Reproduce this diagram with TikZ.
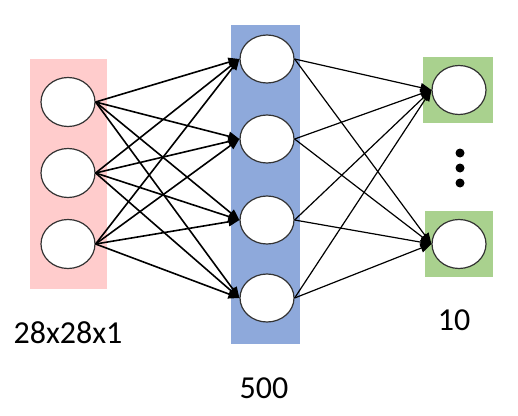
\documentclass[tikz,border=0pt]{standalone}
\usepackage{fontspec}
\setmainfont{Carlito}
\usetikzlibrary{shapes.geometric,arrows.meta}
\definecolor{lightpink}{rgb}{1,0.8,0.8}
\definecolor{layerblue}{rgb}{0.557,0.663,0.859}
\definecolor{layergreen}{rgb}{0.663,0.820,0.557}
\tikzset{
  neuron/.style={ellipse,draw=black!80,line width=1.2pt,fill=white,minimum width=54pt,minimum height=49pt,inner sep=0pt},
  link/.style={black,line width=1.6pt,-{Triangle[length=11pt,width=9pt]}},
  outlink/.style={black,line width=1.2pt,-{Triangle[length=11pt,width=9pt]}},
  size/.style={font=\fontsize{32}{36}\selectfont}
}
\begin{document}
\begin{tikzpicture}[x=1pt,y=-1pt]
\useasboundingbox (0,0) rectangle (518,415);
% layers
\fill[lightpink] (30,59) rectangle (107,289);
\fill[layerblue] (231,25) rectangle (300,344);
\fill[layergreen] (423,57) rectangle (493,123);
\fill[layergreen] (425,211) rectangle (493,277);
% input
\node[neuron] (i1) at (68,102) {};
\node[neuron] (i2) at (68,173) {};
\node[neuron] (i3) at (68,244) {};
% hidden
\node[neuron,minimum height=48pt] (h1) at (267,59) {};
\node[neuron,minimum height=48pt] (h2) at (267,139) {};
\node[neuron,minimum height=48pt] (h3) at (267,220) {};
\node[neuron,minimum height=48pt] (h4) at (267,298) {};
% output
\node[neuron] (o1) at (459,90) {};
\node[neuron] (o2) at (459,244) {};
\fill (460,153) circle (4.5);
\fill (460,168) circle (4.5);
\fill (460,183) circle (4.5);
% input to hidden
\draw[link] (i1.east) -- (h1.west);
\draw[link] (i1.east) -- (h2.west);
\draw[link] (i1.east) -- (h3.west);
\draw[link] (i1.east) -- (h4.west);
\draw[link] (i2.east) -- (h1.west);
\draw[link] (i2.east) -- (h2.west);
\draw[link] (i2.east) -- (h3.west);
\draw[link] (i2.east) -- (h4.west);
\draw[link] (i3.east) -- (h1.west);
\draw[link] (i3.east) -- (h2.west);
\draw[link] (i3.east) -- (h3.west);
\draw[link] (i3.east) -- (h4.west);
% hidden to output
\draw[outlink] (h1.east) -- (o1.west);
\draw[outlink] (h1.east) -- (o2.west);
\draw[outlink] (h2.east) -- (o1.west);
\draw[outlink] (h2.east) -- (o2.west);
\draw[outlink] (h3.east) -- (o1.west);
\draw[outlink] (h3.east) -- (o2.west);
\draw[outlink] (h4.east) -- (o1.west);
\draw[outlink] (h4.east) -- (o2.west);
% sizes
\node[size] (insize) at (68,333) {28x28x1};
\node[size] (hidsize) at (264,388) {500};
\node[size] (outsize) at (454,320) {10};
\end{tikzpicture}
\end{document}
